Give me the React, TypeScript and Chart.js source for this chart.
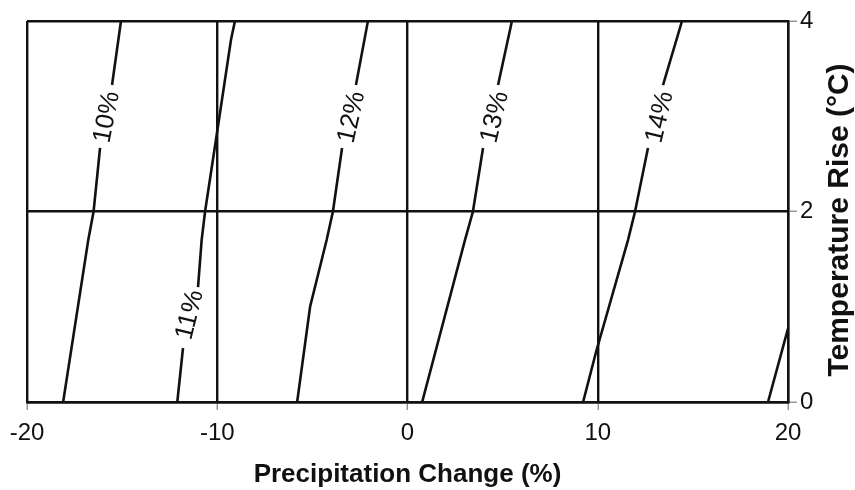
import React, { useEffect, useRef } from "react";
import { Chart, registerables } from "chart.js";

Chart.register(...registerables);

// Axis ranges / ticks
const xRange = [-20, 20];
const yRange = [0, 4];
const xStep = 10;
const yStep = 2;

// Contour lines [precipitation change %, temperature rise °C]; split where the label sits
const c10Lower = [[-18.1, 0], [-16.78, 1.7], [-16.5, 2.0], [-16.16, 2.667]];
const c10Upper = [[-15.53, 3.328], [-15.06, 4]];
const c11Lower = [[-12.1, 0], [-11.8, 0.567]];
const c11Upper = [[-11.01, 1.207], [-10.82, 1.7], [-10.64, 2.0], [-10.07, 2.75], [-9.28, 3.8], [-9.07, 4]];
const c12Lower = [[-5.8, 0], [-5.12, 1.0], [-4.25, 1.7], [-3.92, 2.0], [-3.44, 2.667]];
const c12Upper = [[-2.71, 3.328], [-2.08, 4]];
const c13Lower = [[0.77, 0], [3.02, 1.7], [3.44, 2.0], [3.97, 2.667]];
const c13Upper = [[4.76, 3.328], [5.49, 4]];
const c14Lower = [[9.23, 0], [9.91, 0.525], [11.59, 1.7], [11.96, 2.0], [12.64, 2.667]];
const c14Upper = [[13.43, 3.328], [14.43, 4]];
const c15 = [[18.95, 0], [20, 0.77]];

// Contour labels
const labelTexts = ["10%", "11%", "12%", "13%", "14%"];
const labelX = [-15.79, -11.43, -2.92, 4.6, 13.27];
const labelY = [2.99, 0.913, 2.99, 2.99, 2.99];
const labelGaps = [
  [c10Lower, c10Upper],
  [c11Lower, c11Upper],
  [c12Lower, c12Upper],
  [c13Lower, c13Upper],
  [c14Lower, c14Upper],
];

const segments = [c10Lower, c10Upper, c11Lower, c11Upper, c12Lower, c12Upper, c13Lower, c13Upper, c14Lower, c14Upper, c15];

const xTitle = "Precipitation Change (%)";
const yTitle = "Temperature Rise (°C)";

const FONT = '"Liberation Sans", Arial, Helvetica, sans-serif';
const INK = "#111111";

const contourLabelPlugin = {
  id: "contourLabels",
  afterDatasetsDraw(chart: any) {
    const { ctx, scales } = chart;
    const xs = scales.x;
    const ys = scales.y;
    ctx.save();
    ctx.fillStyle = INK;
    ctx.font = `26px ${FONT}`;
    ctx.textAlign = "center";
    ctx.textBaseline = "middle";
    labelTexts.forEach((t, i) => {
      const [lo, up] = labelGaps[i];
      const a = lo[lo.length - 1];
      const b = up[0];
      const ax = xs.getPixelForValue(a[0]);
      const ay = ys.getPixelForValue(a[1]);
      const bx = xs.getPixelForValue(b[0]);
      const by = ys.getPixelForValue(b[1]);
      const ang = Math.atan2(by - ay, bx - ax);
      const px = xs.getPixelForValue(labelX[i]);
      const py = ys.getPixelForValue(labelY[i]);
      ctx.save();
      ctx.translate(px, py);
      ctx.rotate(ang);
      ctx.fillText(t, 0, 0);
      ctx.restore();
    });
    ctx.restore();
  },
};

const titlePlugin = {
  id: "axisTitles",
  afterDraw(chart: any) {
    const { ctx, chartArea } = chart;
    ctx.save();
    ctx.fillStyle = INK;
    ctx.textAlign = "center";
    ctx.textBaseline = "middle";
    ctx.font = `bold 26px ${FONT}`;
    ctx.fillText(xTitle, (chartArea.left + chartArea.right) / 2, 475);
    ctx.translate(840, 220);
    ctx.rotate(-Math.PI / 2);
    ctx.font = `bold 30px ${FONT}`;
    ctx.fillText(yTitle, 0, 0);
    ctx.restore();
  },
};

export default function App() {
  const ref = useRef<HTMLCanvasElement | null>(null);

  useEffect(() => {
    if (!ref.current) return;
    const chart = new Chart(ref.current, {
      type: "scatter",
      data: {
        datasets: segments.map((seg) => ({
          data: seg.map((p) => ({ x: p[0], y: p[1] })),
          showLine: true,
          borderColor: INK,
          borderWidth: 2.6,
          pointRadius: 0,
          pointHoverRadius: 0,
          tension: 0,
          fill: false,
        })),
      },
      options: {
        animation: false,
        responsive: true,
        maintainAspectRatio: false,
        devicePixelRatio: 1,
        layout: { padding: { left: 27, top: 21, right: 0, bottom: 0 } },
        plugins: {
          legend: { display: false },
          tooltip: { enabled: false },
          title: { display: false },
        },
        events: [],
        scales: {
          x: {
            type: "linear",
            min: xRange[0],
            max: xRange[1],
            ticks: {
              stepSize: xStep,
              color: INK,
              font: { family: FONT, size: 24 },
              padding: 9,
              maxRotation: 0,
            },
            grid: {
              color: INK,
              lineWidth: 2.4,
              drawTicks: true,
              tickLength: 8,
              tickColor: "#666",
              tickWidth: 1,
            },
            border: { display: true, color: INK, width: 2.4 },
            afterFit(scale: any) {
              scale.height = 88;
            },
          },
          y: {
            type: "linear",
            position: "right",
            min: yRange[0],
            max: yRange[1],
            ticks: {
              stepSize: yStep,
              color: INK,
              font: { family: FONT, size: 24 },
              padding: 3,
            },
            grid: {
              color: INK,
              lineWidth: 2.4,
              drawTicks: true,
              tickLength: 9,
              tickColor: "#666",
              tickWidth: 1,
            },
            border: { display: true, color: INK, width: 2.4 },
            afterFit(scale: any) {
              scale.width = 67;
            },
          },
        },
      },
      plugins: [contourLabelPlugin, titlePlugin],
    });
    return () => chart.destroy();
  }, []);

  return (
    <div style={{ position: "fixed", left: 0, top: 0, width: 855, height: 490, background: "#fff" }}>
      <canvas ref={ref} />
    </div>
  );
}
